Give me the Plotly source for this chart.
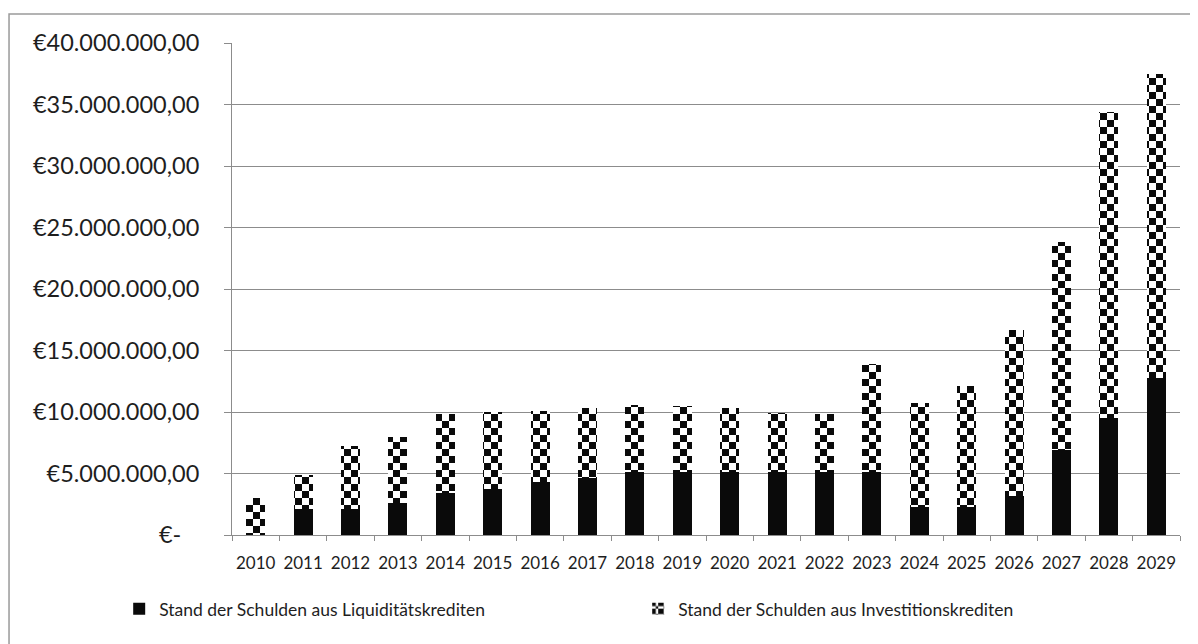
import plotly.graph_objects as go

years = [str(y) for y in range(2010, 2030)]
liquiditaet = [0.0, 2.1e6, 2.1e6, 2.6e6, 3.4e6, 3.7e6, 4.3e6, 4.6e6, 5.1e6, 5.1e6,
               5.1e6, 5.1e6, 5.1e6, 5.1e6, 2.3e6, 2.3e6, 3.2e6, 6.9e6, 9.5e6, 12.8e6]
gesamt = [3.0e6, 4.9e6, 7.2e6, 8.0e6, 9.8e6, 10.0e6, 10.1e6, 10.3e6, 10.6e6, 10.5e6,
          10.3e6, 9.9e6, 9.8e6, 13.9e6, 10.7e6, 12.1e6, 16.7e6, 23.8e6, 34.4e6, 37.5e6]
investition = [g - l for g, l in zip(gesamt, liquiditaet)]

y_tickvals = [0, 5e6, 10e6, 15e6, 20e6, 25e6, 30e6, 35e6, 40e6]
y_ticktext = ["€-\u00a0\u00a0\u00a0", "€5.000.000,00", "€10.000.000,00", "€15.000.000,00",
              "€20.000.000,00", "€25.000.000,00", "€30.000.000,00", "€35.000.000,00",
              "€40.000.000,00"]

name_liq = "Stand der Schulden aus Liquiditätskrediten"
name_inv = "Stand der Schulden aus Investitionskrediten"

FONT = "Lato"
GRID = "#8c8c8c"
TXT = "#1e1e1e"

fig = go.Figure()
fig.add_trace(go.Bar(x=years, y=liquiditaet, name=name_liq,
                     marker=dict(color="#0a0a0a", line=dict(width=0))))
pat = go.bar.marker.Pattern(path="M0,0H7V7H0ZM7,7H14V14H7Z", size=14,
                            fgcolor="#0a0a0a", bgcolor="white", fgopacity=1)
fig.add_trace(go.Bar(x=years, y=investition, name=name_inv,
                     marker=dict(color="white", pattern=pat, line=dict(width=0))))

# the page body adds an 8px offset, so the figure is 8px smaller
fig.update_layout(
    barmode="stack",
    bargap=0.6,
    width=1190, height=636,
    margin=dict(l=224, r=18, t=35, b=109),
    paper_bgcolor="white", plot_bgcolor="white",
    font=dict(family=FONT, color=TXT),
    showlegend=True,
    legend=dict(orientation="h", x=-0.119, xanchor="left", y=-0.15, yanchor="middle",
                font=dict(size=17.5, family=FONT, color=TXT), entrywidth=474,
                traceorder="normal", itemsizing="constant"),
    shapes=[dict(type="rect", xref="paper", yref="paper",
                 x0=-0.2352, x1=1.1, y0=-0.3, y1=1.059,
                 line=dict(color="#9a9a9a", width=1.5), fillcolor="rgba(0,0,0,0)",
                 layer="below")],
)
fig.update_xaxes(type="category", showline=True, linecolor=GRID, linewidth=1,
                 ticks="outside", tickson="boundaries", ticklen=5, tickcolor=GRID,
                 tickfont=dict(size=17, family=FONT, color=TXT), showgrid=False,
                 tickangle=0, ticklabelstandoff=13)
fig.update_yaxes(range=[0, 40e6], tickvals=y_tickvals, ticktext=y_ticktext,
                 showline=True, linecolor=GRID, linewidth=1,
                 ticks="outside", ticklen=7, tickcolor=GRID,
                 showgrid=True, gridcolor=GRID, gridwidth=1,
                 tickfont=dict(size=23.5, family=FONT, color=TXT), zeroline=False,
                 ticklabelstandoff=20)

fig.write_html("out.html")
